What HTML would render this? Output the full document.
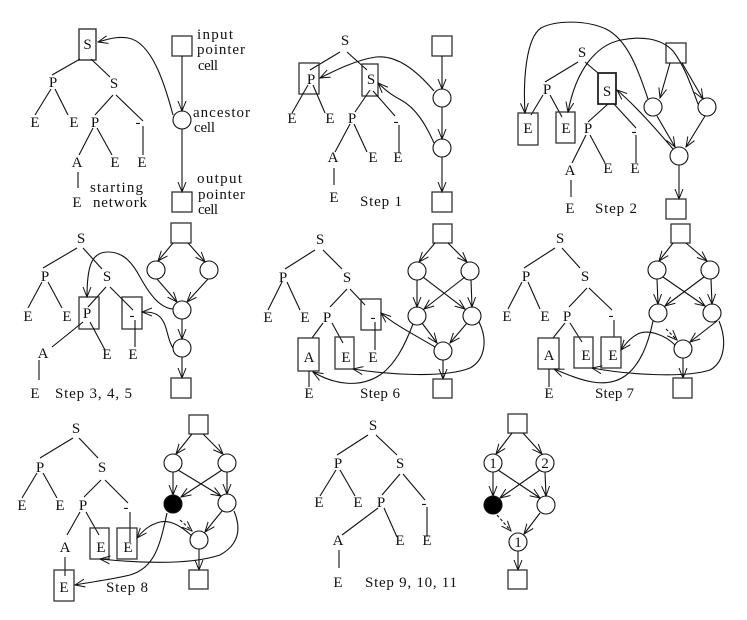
<!DOCTYPE html>
<html><head><meta charset="utf-8"><style>
html,body{margin:0;padding:0;background:#fff;}
svg{display:block;}
text{font-family:"Liberation Serif",serif;font-size:15px;fill:#111;}
.c{text-anchor:middle;}
</style></head><body>
<svg width="747" height="620" viewBox="0 0 747 620" xmlns="http://www.w3.org/2000/svg">
<defs>
<marker id="a" markerWidth="11" markerHeight="9" refX="10" refY="4.5" orient="auto" markerUnits="userSpaceOnUse">
<path d="M0,0.5 L10,4.5 L0,8.5" fill="none" stroke="#111" stroke-width="1"/>
</marker>
</defs>
<g fill="none" stroke="#111" stroke-width="1.1">
<!-- ===== Panel 1 ===== -->
<rect x="79" y="29" width="17" height="31" stroke="#333" stroke-width="1.4"/>
<line x1="80" y1="59" x2="52" y2="75"/><line x1="91" y1="59" x2="110" y2="77"/>
<line x1="51" y1="89" x2="35" y2="115"/><line x1="55" y1="89" x2="68" y2="115"/>
<line x1="113" y1="95" x2="95" y2="115"/><line x1="116" y1="95" x2="143" y2="121"/>
<line x1="143" y1="126" x2="143" y2="155"/>
<line x1="93" y1="128" x2="79" y2="155"/><line x1="97" y1="128" x2="112" y2="155"/>
<line x1="78" y1="172" x2="78" y2="188"/>
<rect x="172" y="36" width="20" height="20" stroke="#333" stroke-width="1.3"/>
<line x1="182" y1="56" x2="182" y2="111" marker-end="url(#a)"/>
<circle cx="182" cy="120" r="9"/>
<line x1="182" y1="129" x2="182" y2="192" marker-end="url(#a)"/>
<rect x="172" y="192" width="20" height="20" stroke="#333" stroke-width="1.3"/>
<path d="M173,115 C165,85 152,42 128,38 C115,36 106,40 98,42" marker-end="url(#a)"/>

<!-- ===== Panel 2 ===== -->
<line x1="340" y1="52" x2="310" y2="70"/><line x1="347" y1="52" x2="367" y2="70"/>
<rect x="299" y="63" width="20" height="31" stroke="#333" stroke-width="1.3"/>
<rect x="362" y="64" width="16" height="32" stroke="#333" stroke-width="1.3"/>
<line x1="308" y1="85" x2="292" y2="113"/><line x1="313" y1="85" x2="325" y2="113"/>
<line x1="370" y1="90" x2="355" y2="112"/><line x1="373" y1="91" x2="395" y2="116"/>
<line x1="399" y1="125" x2="399" y2="153"/>
<line x1="350" y1="124" x2="335" y2="152"/><line x1="354" y1="124" x2="367" y2="152"/>
<line x1="334" y1="168" x2="334" y2="185"/>
<rect x="432" y="36" width="20" height="20" stroke="#333" stroke-width="1.3"/>
<line x1="442" y1="56" x2="442" y2="89" marker-end="url(#a)"/>
<circle cx="442" cy="98" r="9"/>
<line x1="442" y1="107" x2="442" y2="139" marker-end="url(#a)"/>
<circle cx="442" cy="148" r="9"/>
<line x1="442" y1="157" x2="442" y2="192" marker-end="url(#a)"/>
<rect x="432" y="192" width="20" height="20" stroke="#333" stroke-width="1.3"/>
<path d="M434,91 C416,70 397,55 376,57 C356,60 336,70 320,78" marker-end="url(#a)"/>
<path d="M434,143 C426,125 416,108 401,100 C391,95 384,89 378,83" marker-end="url(#a)"/>

<!-- ===== Panel 3 ===== -->
<line x1="578" y1="62" x2="545" y2="82"/><line x1="585" y1="62" x2="598" y2="73"/>
<line x1="543" y1="95" x2="531" y2="115"/><line x1="550" y1="95" x2="562" y2="117"/>
<rect x="518" y="113" width="20" height="32" stroke="#333" stroke-width="1.3"/>
<rect x="556" y="112" width="19" height="31" stroke="#333" stroke-width="1.3"/>
<rect x="598" y="73" width="18" height="31" stroke="#222" stroke-width="1.8"/>
<line x1="608" y1="104" x2="588" y2="122"/><line x1="614" y1="104" x2="636" y2="128"/>
<line x1="636" y1="135" x2="636" y2="163"/>
<line x1="586" y1="135" x2="572" y2="163"/><line x1="590" y1="135" x2="605" y2="163"/>
<line x1="571" y1="180" x2="571" y2="197"/>
<rect x="666" y="43" width="20" height="20" stroke="#333" stroke-width="1.3"/>
<circle cx="653" cy="107" r="9"/><circle cx="707" cy="107" r="9"/><circle cx="679" cy="156" r="9"/>
<line x1="670" y1="63" x2="660" y2="98" marker-end="url(#a)"/>
<line x1="682" y1="63" x2="703" y2="99" marker-end="url(#a)"/>
<line x1="657" y1="116" x2="675" y2="147" marker-end="url(#a)"/>
<line x1="705" y1="116" x2="686" y2="147" marker-end="url(#a)"/>
<line x1="679" y1="165" x2="679" y2="199" marker-end="url(#a)"/>
<rect x="666" y="199" width="20" height="20" stroke="#333" stroke-width="1.3"/>
<path d="M673,149 C660,134 640,110 617,90" marker-end="url(#a)"/>
<path d="M648,99 C638,70 628,40 606,29 C586,20 556,20 541,28 C526,38 523,80 525,113" marker-end="url(#a)"/>
<path d="M698,104 C691,85 684,65 673,51 C661,38 641,36 621,40 C596,45 576,70 568,112" marker-end="url(#a)"/>

<!-- ===== Panel 4 ===== -->
<line x1="77" y1="248" x2="43" y2="268"/><line x1="83" y1="248" x2="102" y2="269"/>
<line x1="42" y1="282" x2="28" y2="308"/><line x1="48" y1="282" x2="62" y2="308"/>
<rect x="79" y="297" width="20" height="32" stroke="#333" stroke-width="1.3"/>
<rect x="122" y="297" width="20" height="32" stroke="#333" stroke-width="1.3"/>
<line x1="106" y1="287" x2="88" y2="307"/><line x1="110" y1="287" x2="133" y2="310"/>
<line x1="83" y1="322" x2="52" y2="347"/><line x1="90" y1="322" x2="105" y2="350"/>
<line x1="135" y1="320" x2="135" y2="347"/>
<line x1="39" y1="360" x2="39" y2="380"/>
<rect x="171" y="223" width="20" height="20" stroke="#333" stroke-width="1.3"/>
<circle cx="156" cy="270" r="9"/><circle cx="209" cy="270" r="9"/>
<circle cx="182" cy="310" r="9"/><circle cx="182" cy="348" r="9"/>
<line x1="173" y1="243" x2="158" y2="261" marker-end="url(#a)"/>
<line x1="188" y1="243" x2="205" y2="262" marker-end="url(#a)"/>
<line x1="157" y1="279" x2="177" y2="302" marker-end="url(#a)"/>
<line x1="208" y1="279" x2="187" y2="302" marker-end="url(#a)"/>
<line x1="182" y1="319" x2="182" y2="339" marker-end="url(#a)"/>
<line x1="182" y1="357" x2="182" y2="378" marker-end="url(#a)"/>
<rect x="171" y="378" width="20" height="20" stroke="#333" stroke-width="1.3"/>
<path d="M173,309 C160,308 150,295 140,277 C130,258 120,252 108,252 C92,252 87,265 87,297" marker-end="url(#a)"/>
<path d="M173,348 C167,340 168,325 160,317 C155,312 148,312 142,312" marker-end="url(#a)"/>

<!-- ===== Panel 5 ===== -->
<line x1="315" y1="250" x2="285" y2="269"/><line x1="323" y1="250" x2="342" y2="269"/>
<line x1="282" y1="282" x2="268" y2="310"/><line x1="287" y1="282" x2="300" y2="310"/>
<line x1="347" y1="289" x2="330" y2="307"/><line x1="350" y1="289" x2="365" y2="305"/>
<rect x="361" y="299" width="20" height="31" stroke="#333" stroke-width="1.3"/>
<line x1="375" y1="322" x2="375" y2="350"/>
<line x1="323" y1="323" x2="312" y2="338"/><line x1="332" y1="323" x2="343" y2="343"/>
<rect x="298" y="338" width="21" height="33" stroke="#333" stroke-width="1.3"/>
<rect x="335" y="337" width="19" height="32" stroke="#333" stroke-width="1.3"/>
<line x1="309" y1="371" x2="309" y2="387"/>
<rect x="433" y="224" width="19" height="19" stroke="#333" stroke-width="1.3"/>
<circle cx="417" cy="271" r="9"/><circle cx="470" cy="271" r="9"/>
<circle cx="417" cy="316" r="9"/><circle cx="472" cy="316" r="9"/>
<circle cx="443" cy="351" r="9"/>
<line x1="435" y1="243" x2="419" y2="262" marker-end="url(#a)"/>
<line x1="448" y1="243" x2="467" y2="262" marker-end="url(#a)"/>
<line x1="417" y1="280" x2="417" y2="307" marker-end="url(#a)"/>
<line x1="471" y1="280" x2="472" y2="307" marker-end="url(#a)"/>
<line x1="423" y1="277" x2="465" y2="309" marker-end="url(#a)"/>
<line x1="465" y1="277" x2="424" y2="309" marker-end="url(#a)"/>
<line x1="422" y1="323" x2="437" y2="343" marker-end="url(#a)"/>
<line x1="467" y1="323" x2="450" y2="343" marker-end="url(#a)"/>
<line x1="443" y1="360" x2="443" y2="379" marker-end="url(#a)"/>
<rect x="433" y="379" width="19" height="19" stroke="#333" stroke-width="1.3"/>
<path d="M435,347 C415,335 395,325 381,313" marker-end="url(#a)"/>
<path d="M413,324 C405,345 395,365 380,375 C360,388 335,385 313,372" marker-end="url(#a)"/>
<path d="M479,322 C488,340 485,360 470,368 C445,378 390,375 353,369" marker-end="url(#a)"/>

<!-- ===== Panel 6 ===== -->
<line x1="555" y1="248" x2="524" y2="268"/><line x1="562" y1="248" x2="580" y2="268"/>
<line x1="522" y1="282" x2="508" y2="309"/><line x1="528" y1="282" x2="540" y2="309"/>
<line x1="587" y1="288" x2="569" y2="307"/><line x1="589" y1="288" x2="612" y2="310"/>
<line x1="614" y1="320" x2="614" y2="337"/>
<line x1="565" y1="323" x2="553" y2="338"/><line x1="570" y1="323" x2="582" y2="342"/>
<rect x="538" y="338" width="21" height="31" stroke="#333" stroke-width="1.3"/>
<rect x="574" y="337" width="19" height="31" stroke="#333" stroke-width="1.3"/>
<rect x="601" y="337" width="20" height="31" stroke="#333" stroke-width="1.3"/>
<line x1="549" y1="369" x2="549" y2="387"/>
<rect x="671" y="224" width="19" height="19" stroke="#333" stroke-width="1.3"/>
<circle cx="657" cy="270" r="9"/><circle cx="710" cy="270" r="9"/>
<circle cx="658" cy="313" r="9"/><circle cx="712" cy="313" r="9"/>
<circle cx="683" cy="349" r="9"/>
<line x1="673" y1="243" x2="659" y2="261" marker-end="url(#a)"/>
<line x1="686" y1="243" x2="707" y2="261" marker-end="url(#a)"/>
<line x1="657" y1="279" x2="658" y2="304" marker-end="url(#a)"/>
<line x1="711" y1="279" x2="712" y2="304" marker-end="url(#a)"/>
<line x1="663" y1="277" x2="705" y2="306" marker-end="url(#a)"/>
<line x1="704" y1="277" x2="665" y2="306" marker-end="url(#a)"/>
<line x1="717" y1="321" x2="690" y2="342" marker-end="url(#a)"/>
<line x1="666" y1="329" x2="677" y2="340" stroke-dasharray="3,2" marker-end="url(#a)"/>
<line x1="683" y1="358" x2="683" y2="378" marker-end="url(#a)"/>
<rect x="673" y="378" width="19" height="20" stroke="#333" stroke-width="1.3"/>
<path d="M675,345 C665,335 650,330 640,333 C630,337 625,345 621,350" marker-end="url(#a)"/>
<path d="M653,321 C648,345 640,365 625,376 C605,390 580,380 554,369" marker-end="url(#a)"/>
<path d="M719,321 C727,340 725,362 710,370 C685,378 630,375 592,368" marker-end="url(#a)"/>

<!-- ===== Panel 7 ===== -->
<line x1="73" y1="438" x2="40" y2="458"/><line x1="79" y1="438" x2="98" y2="458"/>
<line x1="37" y1="473" x2="22" y2="498"/><line x1="43" y1="473" x2="57" y2="498"/>
<line x1="101" y1="480" x2="84" y2="497"/><line x1="105" y1="480" x2="128" y2="503"/>
<line x1="130" y1="512" x2="130" y2="542"/>
<line x1="80" y1="512" x2="67" y2="535"/><line x1="86" y1="512" x2="99" y2="535"/>
<rect x="90" y="528" width="19" height="31" stroke="#333" stroke-width="1.3"/>
<rect x="117" y="528" width="20" height="31" stroke="#333" stroke-width="1.3"/>
<line x1="65" y1="557" x2="65" y2="576"/>
<rect x="54" y="570" width="20" height="31" stroke="#333" stroke-width="1.3"/>
<rect x="189" y="415" width="19" height="19" stroke="#333" stroke-width="1.3"/>
<circle cx="173" cy="463" r="9"/><circle cx="227" cy="463" r="9"/>
<circle cx="173" cy="504" r="9" fill="#000"/><circle cx="227" cy="503" r="9"/>
<circle cx="199" cy="540" r="9"/>
<line x1="192" y1="434" x2="176" y2="454" marker-end="url(#a)"/>
<line x1="203" y1="434" x2="223" y2="454" marker-end="url(#a)"/>
<line x1="173" y1="472" x2="173" y2="495" marker-end="url(#a)"/>
<line x1="227" y1="472" x2="227" y2="494" marker-end="url(#a)"/>
<line x1="178" y1="470" x2="221" y2="496" marker-end="url(#a)"/>
<line x1="222" y1="470" x2="181" y2="497" marker-end="url(#a)"/>
<line x1="222" y1="511" x2="205" y2="532" marker-end="url(#a)"/>
<line x1="180" y1="520" x2="192" y2="531" stroke-dasharray="3,2" marker-end="url(#a)"/>
<line x1="199" y1="549" x2="199" y2="570" marker-end="url(#a)"/>
<rect x="189" y="570" width="19" height="19" stroke="#333" stroke-width="1.3"/>
<path d="M167,513 C160,545 155,568 130,575 C110,580 90,582 75,585" marker-end="url(#a)"/>
<path d="M192,536 C180,525 170,520 160,522 C148,525 142,532 137,538" marker-end="url(#a)"/>
<path d="M234,511 C242,530 238,545 220,555 C190,565 140,563 100,559" marker-end="url(#a)"/>

<!-- ===== Panel 8 ===== -->
<line x1="368" y1="435" x2="337" y2="455"/><line x1="376" y1="435" x2="397" y2="455"/>
<line x1="336" y1="470" x2="320" y2="496"/><line x1="340" y1="470" x2="355" y2="496"/>
<line x1="400" y1="474" x2="382" y2="495"/><line x1="403" y1="474" x2="425" y2="500"/>
<line x1="427" y1="507" x2="427" y2="537"/>
<line x1="378" y1="508" x2="342" y2="535"/><line x1="384" y1="508" x2="397" y2="537"/>
<line x1="339" y1="550" x2="339" y2="568"/>
<rect x="508" y="414" width="19" height="19" stroke="#333" stroke-width="1.3"/>
<circle cx="493" cy="463" r="9"/><circle cx="545" cy="463" r="9"/>
<circle cx="493" cy="505" r="9" fill="#000"/><circle cx="546" cy="505" r="9"/>
<circle cx="518" cy="542" r="9"/>
<line x1="512" y1="433" x2="496" y2="454" marker-end="url(#a)"/>
<line x1="523" y1="433" x2="542" y2="454" marker-end="url(#a)"/>
<line x1="493" y1="472" x2="493" y2="496" marker-end="url(#a)"/>
<line x1="545" y1="472" x2="546" y2="496" marker-end="url(#a)"/>
<line x1="498" y1="470" x2="540" y2="498" marker-end="url(#a)"/>
<line x1="540" y1="470" x2="500" y2="498" marker-end="url(#a)"/>
<line x1="540" y1="513" x2="524" y2="534" marker-end="url(#a)"/>
<line x1="497" y1="515" x2="511" y2="531" stroke-dasharray="3,2" marker-end="url(#a)"/>
<line x1="518" y1="551" x2="518" y2="570" marker-end="url(#a)"/>
<rect x="508" y="570" width="19" height="19" stroke="#333" stroke-width="1.3"/>
</g>

<!-- ===== Text ===== -->
<g>
<!-- Panel 1 -->
<text class="c" x="87.5" y="49">S</text>
<text class="c" x="53" y="87">P</text><text class="c" x="114" y="88">S</text>
<text class="c" x="35" y="127">E</text><text class="c" x="74" y="127">E</text><text class="c" x="95" y="127">P</text>
<text class="c" x="138" y="127">-</text>
<text class="c" x="77" y="167">A</text><text class="c" x="115" y="167">E</text><text class="c" x="142" y="167">E</text>
<text class="c" x="77" y="207">E</text>
<text x="90" y="192" textLength="53" lengthAdjust="spacing">starting</text>
<text x="93" y="207" textLength="54" lengthAdjust="spacing">network</text>
<text x="197" y="39" textLength="36" lengthAdjust="spacing">input</text>
<text x="197" y="54" textLength="48" lengthAdjust="spacing">pointer</text>
<text x="198" y="70" textLength="20" lengthAdjust="spacing">cell</text>
<text x="193" y="117" textLength="57" lengthAdjust="spacing">ancestor</text>
<text x="194" y="132" textLength="21" lengthAdjust="spacing">cell</text>
<text x="197" y="183" textLength="45" lengthAdjust="spacing">output</text>
<text x="198" y="199" textLength="47" lengthAdjust="spacing">pointer</text>
<text x="198" y="214" textLength="20" lengthAdjust="spacing">cell</text>

<!-- Panel 2 -->
<text class="c" x="345" y="45">S</text>
<text class="c" x="311" y="84">P</text><text class="c" x="371" y="84">S</text>
<text class="c" x="292" y="123">E</text><text class="c" x="330" y="123">E</text><text class="c" x="352" y="123">P</text>
<text class="c" x="396" y="126">-</text>
<text class="c" x="333" y="162">A</text><text class="c" x="373" y="162">E</text><text class="c" x="398" y="162">E</text>
<text class="c" x="334" y="202">E</text>
<text x="360" y="206" textLength="42" lengthAdjust="spacing">Step 1</text>

<!-- Panel 3 -->
<text class="c" x="582" y="57">S</text>
<text class="c" x="547" y="94">P</text>
<text class="c" x="528" y="133">E</text><text class="c" x="566" y="133">E</text>
<text class="c" x="607" y="96">S</text>
<text class="c" x="588" y="133">P</text>
<text class="c" x="634" y="136">-</text>
<text class="c" x="570" y="175">A</text><text class="c" x="608" y="173">E</text><text class="c" x="635" y="173">E</text>
<text class="c" x="570" y="213">E</text>
<text x="595" y="213" textLength="42" lengthAdjust="spacing">Step 2</text>

<!-- Panel 4 -->
<text class="c" x="81" y="243">S</text>
<text class="c" x="45" y="281">P</text><text class="c" x="107" y="281">S</text>
<text class="c" x="28" y="321">E</text><text class="c" x="67" y="321">E</text>
<text class="c" x="87" y="318">P</text>
<text class="c" x="132" y="320">-</text>
<text class="c" x="43" y="358">A</text><text class="c" x="107" y="359">E</text><text class="c" x="133" y="359">E</text>
<text class="c" x="35" y="398">E</text>
<text x="55" y="398" textLength="77" lengthAdjust="spacing">Step 3, 4, 5</text>

<!-- Panel 5 -->
<text class="c" x="320" y="244">S</text>
<text class="c" x="283" y="282">P</text><text class="c" x="347" y="282">S</text>
<text class="c" x="268" y="322">E</text><text class="c" x="305" y="322">E</text><text class="c" x="327" y="322">P</text>
<text class="c" x="373" y="322">-</text>
<text class="c" x="309" y="362">A</text><text class="c" x="346" y="362">E</text><text class="c" x="373" y="362">E</text>
<text class="c" x="309" y="398">E</text>
<text x="360" y="398" textLength="40" lengthAdjust="spacing">Step 6</text>

<!-- Panel 6 -->
<text class="c" x="560" y="243">S</text>
<text class="c" x="526" y="281">P</text><text class="c" x="585" y="281">S</text>
<text class="c" x="507" y="321">E</text><text class="c" x="545" y="321">E</text><text class="c" x="567" y="321">P</text>
<text class="c" x="611" y="320">-</text>
<text class="c" x="549" y="360">A</text><text class="c" x="586" y="360">E</text><text class="c" x="613" y="360">E</text>
<text class="c" x="549" y="398">E</text>
<text x="595" y="398" textLength="39" lengthAdjust="spacing">Step 7</text>

<!-- Panel 7 -->
<text class="c" x="76" y="433">S</text>
<text class="c" x="40" y="472">P</text><text class="c" x="102" y="472">S</text>
<text class="c" x="22" y="510">E</text><text class="c" x="60" y="510">E</text><text class="c" x="83" y="510">P</text>
<text class="c" x="126" y="512">-</text>
<text class="c" x="65" y="552">A</text><text class="c" x="101" y="552">E</text><text class="c" x="128" y="552">E</text>
<text class="c" x="64" y="592">E</text>
<text x="106" y="592" textLength="42" lengthAdjust="spacing">Step 8</text>

<!-- Panel 8 -->
<text class="c" x="373" y="430">S</text>
<text class="c" x="338" y="468">P</text><text class="c" x="400" y="468">S</text>
<text class="c" x="319" y="507">E</text><text class="c" x="358" y="507">E</text><text class="c" x="381" y="507">P</text>
<text class="c" x="424" y="508">-</text>
<text class="c" x="338" y="545">A</text><text class="c" x="400" y="545">E</text><text class="c" x="427" y="545">E</text>
<text class="c" x="338" y="587">E</text>
<text x="365" y="587" textLength="92" lengthAdjust="spacing">Step 9, 10, 11</text>
<text class="c" x="493" y="468">1</text>
<text class="c" x="545" y="468">2</text>
<text class="c" x="518" y="547">1</text>
</g>
</svg>
</body></html>
